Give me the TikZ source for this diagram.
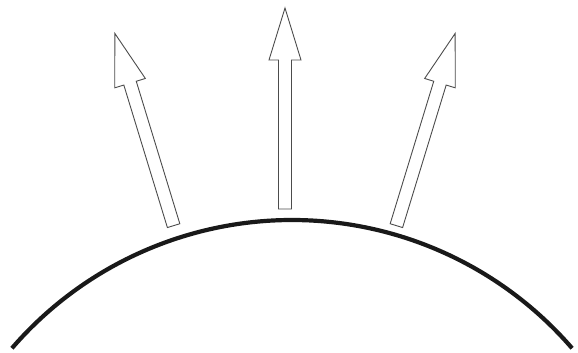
\documentclass[tikz,border=0pt]{standalone}
\begin{document}
\begin{tikzpicture}[x=0.5pt,y=0.5pt,
  surface/.style={line width=2.1pt,color=black!90,line cap=butt},
  rayarrow/.style={draw=black!70,line width=0.45pt,fill=white,line join=miter}]
\useasboundingbox (0,0) rectangle (578,353);
\coordinate (arccenter) at (292,-237);
\coordinate (raycenter) at (285,-237);
% curved surface
\draw[surface] (arccenter) ++(139.2:370) arc[start angle=139.2,end angle=40.8,radius=370];
% three hollow arrows, radial
\foreach \ang in {17,0,-17}{
  \begin{scope}[shift={(raycenter)},rotate=\ang]
    \draw[rayarrow] (-6.5,381) -- (-6.5,530) -- (-16,530) -- (0,582) -- (16,530) -- (6.5,530) -- (6.5,381) -- cycle;
  \end{scope}
}
\end{tikzpicture}
\end{document}
